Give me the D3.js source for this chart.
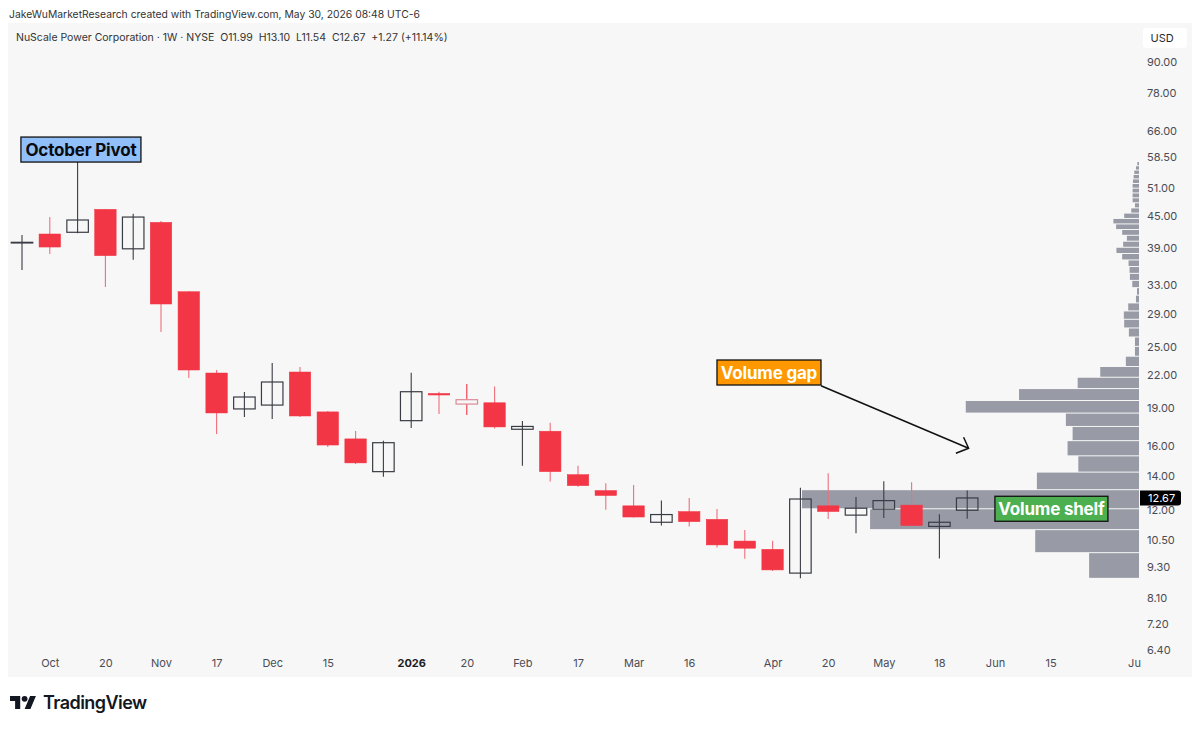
<!DOCTYPE html>
<html>
<head>
<meta charset="utf-8">
<script src="https://cdn.jsdelivr.net/npm/d3@7"></script>
<style>
  html, body { margin: 0; padding: 0; background: #fff; }
  svg { display: block; font-family: Inter, "Liberation Sans", sans-serif; }
  .x-axis text, .y-axis text { font-family: Inter, sans-serif; font-size: 11px; fill: #4a4c55; }
  .x-axis .year text { font-weight: 700; fill: #1c1d22; }
  .tag text { font-size: 17px; font-weight: 700; letter-spacing: -0.2px; text-anchor: middle; dominant-baseline: central; }
</style>
</head>
<body>
<div id="chart"></div>
<script>
// Weekly bars, oldest first
const opens = [39.83, 41.47, 41.79, 46.33, 38.80, 43.70, 32.00, 22.21, 18.90, 19.23, 22.31, 18.65, 16.52, 14.26, 17.93, 20.26, 19.70, 19.43, 17.25, 17.10, 14.07, 13.10, 12.23, 11.36, 11.92, 11.51, 10.44, 10.06, 9.04, 12.23, 11.73, 12.05, 12.27, 11.15, 11.99];
const highs = [41.28, 44.75, 57.43, 46.40, 45.43, 43.95, 32.06, 22.51, 20.40, 23.23, 22.81, 18.73, 17.12, 16.39, 22.24, 20.42, 21.14, 20.90, 17.91, 17.77, 14.65, 13.54, 13.43, 12.52, 12.67, 12.06, 10.97, 10.46, 13.27, 14.15, 12.72, 13.66, 13.59, 11.78, 13.10];
const lows = [35.28, 37.91, 41.60, 32.67, 36.95, 26.70, 21.71, 16.89, 18.23, 18.07, 18.23, 15.93, 14.76, 13.94, 17.35, 18.48, 18.40, 17.30, 14.65, 13.64, 13.33, 12.01, 11.61, 11.19, 11.15, 10.14, 9.64, 9.13, 8.83, 11.53, 10.81, 11.58, 11.13, 9.65, 11.54];
const closes = [39.95, 39.11, 44.16, 37.62, 44.75, 30.28, 22.51, 18.56, 19.94, 21.33, 18.31, 16.07, 14.83, 16.24, 20.42, 20.12, 19.32, 17.43, 17.47, 14.26, 13.39, 12.81, 11.63, 11.76, 11.39, 10.26, 10.11, 9.17, 12.61, 11.92, 12.10, 12.52, 11.19, 11.36, 12.67];

// Volume profile: price edges of the bins (bottom to top) and relative volume per bin
const profileEdges = [8.83, 9.91, 10.99, 12.07, 13.15, 14.23, 15.31, 16.39, 17.47, 18.55, 19.63, 20.71, 21.79, 22.87, 23.95, 25.03, 26.11, 27.19, 28.27, 29.35, 30.43, 31.51, 32.59, 33.67, 34.75, 35.83, 36.91, 37.99, 39.07, 40.15, 41.23, 42.31, 43.39, 44.47, 45.55, 46.63, 47.71, 48.79, 49.87, 50.95, 52.03, 53.11, 54.19, 55.27, 56.35, 57.43];
const profileVolumes = [14.8, 30.8, 79.8, 100, 30.3, 18, 21.2, 19.7, 21.7, 51.4, 35.6, 18.2, 11.5, 3.9, 1.2, 1.2, 3, 4.4, 4.5, 3.2, 0.9, 0.6, 2, 2.7, 2.8, 3.1, 5, 6.7, 4.7, 3.6, 5, 6.8, 7.6, 4.4, 2.3, 1.2, 1.9, 1.9, 1.9, 1.9, 1.8, 1.6, 1.4, 0.9, 0.5];

// Axis ticks
const priceTicks = [90, 78, 66, 58.5, 51, 45, 39, 33, 29, 25, 22, 19, 16, 14, 12, 10.5, 9.3, 8.1, 7.2, 6.4];
const timeTickWeeks = [1, 3, 5, 7, 9, 11, 14, 16, 18, 20, 22, 24, 27, 29, 31, 33, 35, 37, 40];
const timeTickLabels = ['Oct', '20', 'Nov', '17', 'Dec', '15', '2026', '20', 'Feb', '17', 'Mar', '16', 'Apr', '20', 'May', '18', 'Jun', '15', 'Ju'];

const lastPrice = 12.67;
const paleWeek = 16; // the one hollow bar with a pink outline

class CandleChart {

  constructor(_config) {
    this.config = {
      parentElement: _config.parentElement,
      containerWidth: 1200,
      containerHeight: 729,
      pane: { left: 8, top: 23, right: 1192, bottom: 677 },
      candleWidth: 21.5,
      upColor: '#3a3c44',
      downColor: '#f23645',
      downWick: '#ee6f7c',
      paleColor: '#dc8a96',
      profileColor: '#989ba6'
    };
    this.bars = opens.map((o, i) => ({ week: i, open: o, high: highs[i], low: lows[i], close: closes[i] }));
    this.profile = profileVolumes.map((v, i) => ({ volume: v, bottom: profileEdges[i], top: profileEdges[i + 1] }));
    this.initVis();
  }

  initVis() {
    let vis = this;
    const pane = vis.config.pane;

    vis.svg = d3.select(vis.config.parentElement).append('svg')
      .attr('width', vis.config.containerWidth)
      .attr('height', vis.config.containerHeight);

    vis.svg.append('rect')
      .attr('x', pane.left)
      .attr('y', pane.top)
      .attr('width', pane.right - pane.left)
      .attr('height', pane.bottom - pane.top)
      .attr('fill', '#f7f7f7');

    // Week index to x, log price to y
    vis.xScale = d3.scaleLinear().domain([0, 40]).range([22, 1134]);
    vis.yScale = d3.scaleLog().domain([90, 6.4]).range([61.5, 650]);
    vis.volumeScale = d3.scaleLinear().domain([0, 100]).range([0, 337]);

    vis.xAxis = d3.axisBottom(vis.xScale)
      .tickValues(timeTickWeeks)
      .tickFormat((d, i) => timeTickLabels[i])
      .tickSize(0)
      .tickPadding(0);
    vis.yAxis = d3.axisRight(vis.yScale)
      .tickValues(priceTicks)
      .tickFormat(d3.format('.2f'))
      .tickSize(0)
      .tickPadding(0);

    vis.renderVis();
  }

  renderVis() {
    let vis = this;
    const cfg = vis.config;
    const profileRight = 1139;

    // Volume profile sits under the candles
    vis.svg.append('g').selectAll('rect')
      .data(vis.profile)
      .join('rect')
      .attr('x', d => profileRight - vis.volumeScale(d.volume))
      .attr('y', d => vis.yScale(d.top) + 0.5)
      .attr('width', d => vis.volumeScale(d.volume))
      .attr('height', d => vis.yScale(d.bottom) - vis.yScale(d.top) - 1)
      .attr('fill', cfg.profileColor);

    const isUp = d => d.close > d.open && d.week !== paleWeek;
    const wickColor = d => isUp(d) ? cfg.upColor : (d.week === paleWeek ? cfg.downColor : cfg.downWick);

    const candle = vis.svg.append('g').selectAll('g')
      .data(vis.bars)
      .join('g')
      .attr('transform', d => `translate(${vis.xScale(d.week)},0)`);

    candle.append('line')
      .attr('y1', d => vis.yScale(d.high))
      .attr('y2', d => vis.yScale(d.low))
      .attr('stroke', wickColor)
      .attr('stroke-width', 1.1);

    // Hollow bars stay see-through, the profile shows through them
    candle.append('rect')
      .attr('x', -cfg.candleWidth / 2)
      .attr('width', cfg.candleWidth)
      .attr('y', d => vis.yScale(Math.max(d.open, d.close)))
      .attr('height', d => Math.abs(vis.yScale(d.open) - vis.yScale(d.close)))
      .attr('fill', d => d.week === paleWeek || isUp(d) ? '#f7f7f7' : cfg.downColor)
      .attr('fill-opacity', d => d.week === paleWeek ? 1 : (isUp(d) ? 0 : 1))
      .attr('stroke', d => d.week === paleWeek ? cfg.paleColor : (isUp(d) ? cfg.upColor : cfg.downColor))
      .attr('stroke-width', d => isUp(d) || d.week === paleWeek ? 1.2 : 0.5);

    // Axes
    const xAxisG = vis.svg.append('g')
      .attr('class', 'x-axis')
      .attr('transform', 'translate(0,659)')
      .call(vis.xAxis);
    xAxisG.select('.domain').remove();
    xAxisG.selectAll('.tick').classed('year', d => d === 14);

    const yAxisG = vis.svg.append('g')
      .attr('class', 'y-axis')
      .attr('transform', 'translate(1147,0)')
      .call(vis.yAxis);
    yAxisG.select('.domain').remove();

    // Currency button
    vis.svg.append('rect')
      .attr('x', 1143).attr('y', 28)
      .attr('width', 44).attr('height', 20)
      .attr('rx', 3)
      .attr('fill', '#fff');
    vis.svg.append('text')
      .attr('x', 1150.5).attr('y', 42)
      .attr('font-size', 11)
      .attr('fill', '#2a2b30')
      .text('USD');

    // Last price box
    const lastY = vis.yScale(lastPrice);
    vis.svg.append('path')
      .attr('d', `M1140,${lastY - 7.5}h38a3,3 0 0 1 3,3v9a3,3 0 0 1 -3,3h-38z`)
      .attr('fill', '#000');
    vis.svg.append('text')
      .attr('x', 1148).attr('y', lastY + 4)
      .attr('font-size', 11)
      .attr('fill', '#fff')
      .text(d3.format('.2f')(lastPrice));

    // Arrow under the labels
    const arrow = { x1: vis.xScale(28.74), y1: vis.yScale(20.97), x2: vis.xScale(34.05), y2: vis.yScale(15.84) };
    vis.svg.append('line')
      .attr('x1', arrow.x1).attr('y1', arrow.y1)
      .attr('x2', arrow.x2).attr('y2', arrow.y2)
      .attr('stroke', '#111')
      .attr('stroke-width', 1.5);
    vis.svg.append('path')
      .attr('d', `M${arrow.x2 - 12.7},${arrow.y2 + 5}L${arrow.x2},${arrow.y2}L${arrow.x2 - 5},${arrow.y2 - 11}`)
      .attr('fill', 'none')
      .attr('stroke', '#111')
      .attr('stroke-width', 1.5);

    // Text tags
    const tags = [
      { label: 'October Pivot', week: 2.12, price: 60.6, w: 120, fill: '#90bff9', color: '#0b0b0f' },
      { label: 'Volume gap', week: 26.87, price: 22.26, w: 104, fill: '#ff9800', color: '#fff' },
      { label: 'Volume shelf', week: 37.03, price: 12.07, w: 113, fill: '#4caf50', color: '#fff' }
    ];
    const tag = vis.svg.append('g').selectAll('g')
      .data(tags)
      .join('g')
      .attr('class', 'tag')
      .attr('transform', d => `translate(${vis.xScale(d.week)},${vis.yScale(d.price)})`);
    tag.append('rect')
      .attr('x', d => -d.w / 2)
      .attr('y', -12.5)
      .attr('width', d => d.w)
      .attr('height', 25)
      .attr('fill', d => d.fill)
      .attr('stroke', '#111')
      .attr('stroke-width', 1.3);
    tag.append('text')
      .attr('fill', d => d.color)
      .text(d => d.label);

    // Header lines
    vis.svg.append('text')
      .attr('x', 9).attr('y', 17.5)
      .attr('font-size', 10.35)
      .attr('fill', '#333')
      .text('JakeWuMarketResearch created with TradingView.com, May 30, 2026 08:48 UTC-6');
    vis.svg.append('text')
      .attr('x', 16).attr('y', 41)
      .attr('font-size', 10.5)
      .attr('fill', '#333')
      .style('white-space', 'pre')
      .text('NuScale Power Corporation · 1W · NYSE  O11.99  H13.10  L11.54  C12.67  +1.27 (+11.14%)');

    // Logo
    const logo = vis.svg.append('g')
      .attr('transform', 'translate(10,693) scale(0.73)')
      .attr('fill', '#131722');
    logo.append('path').attr('d', 'M14 22H7V11H0V4h14v18ZM28 22h-8l7.5-18h8L28 22Z');
    logo.append('circle').attr('cx', 20).attr('cy', 8).attr('r', 4);
    vis.svg.append('text')
      .attr('x', 43).attr('y', 709)
      .attr('font-size', 18)
      .attr('font-weight', 600)
      .attr('letter-spacing', -0.55)
      .attr('fill', '#131722')
      .text('TradingView');
  }
}

new CandleChart({ parentElement: '#chart' });
</script>
</body>
</html>
